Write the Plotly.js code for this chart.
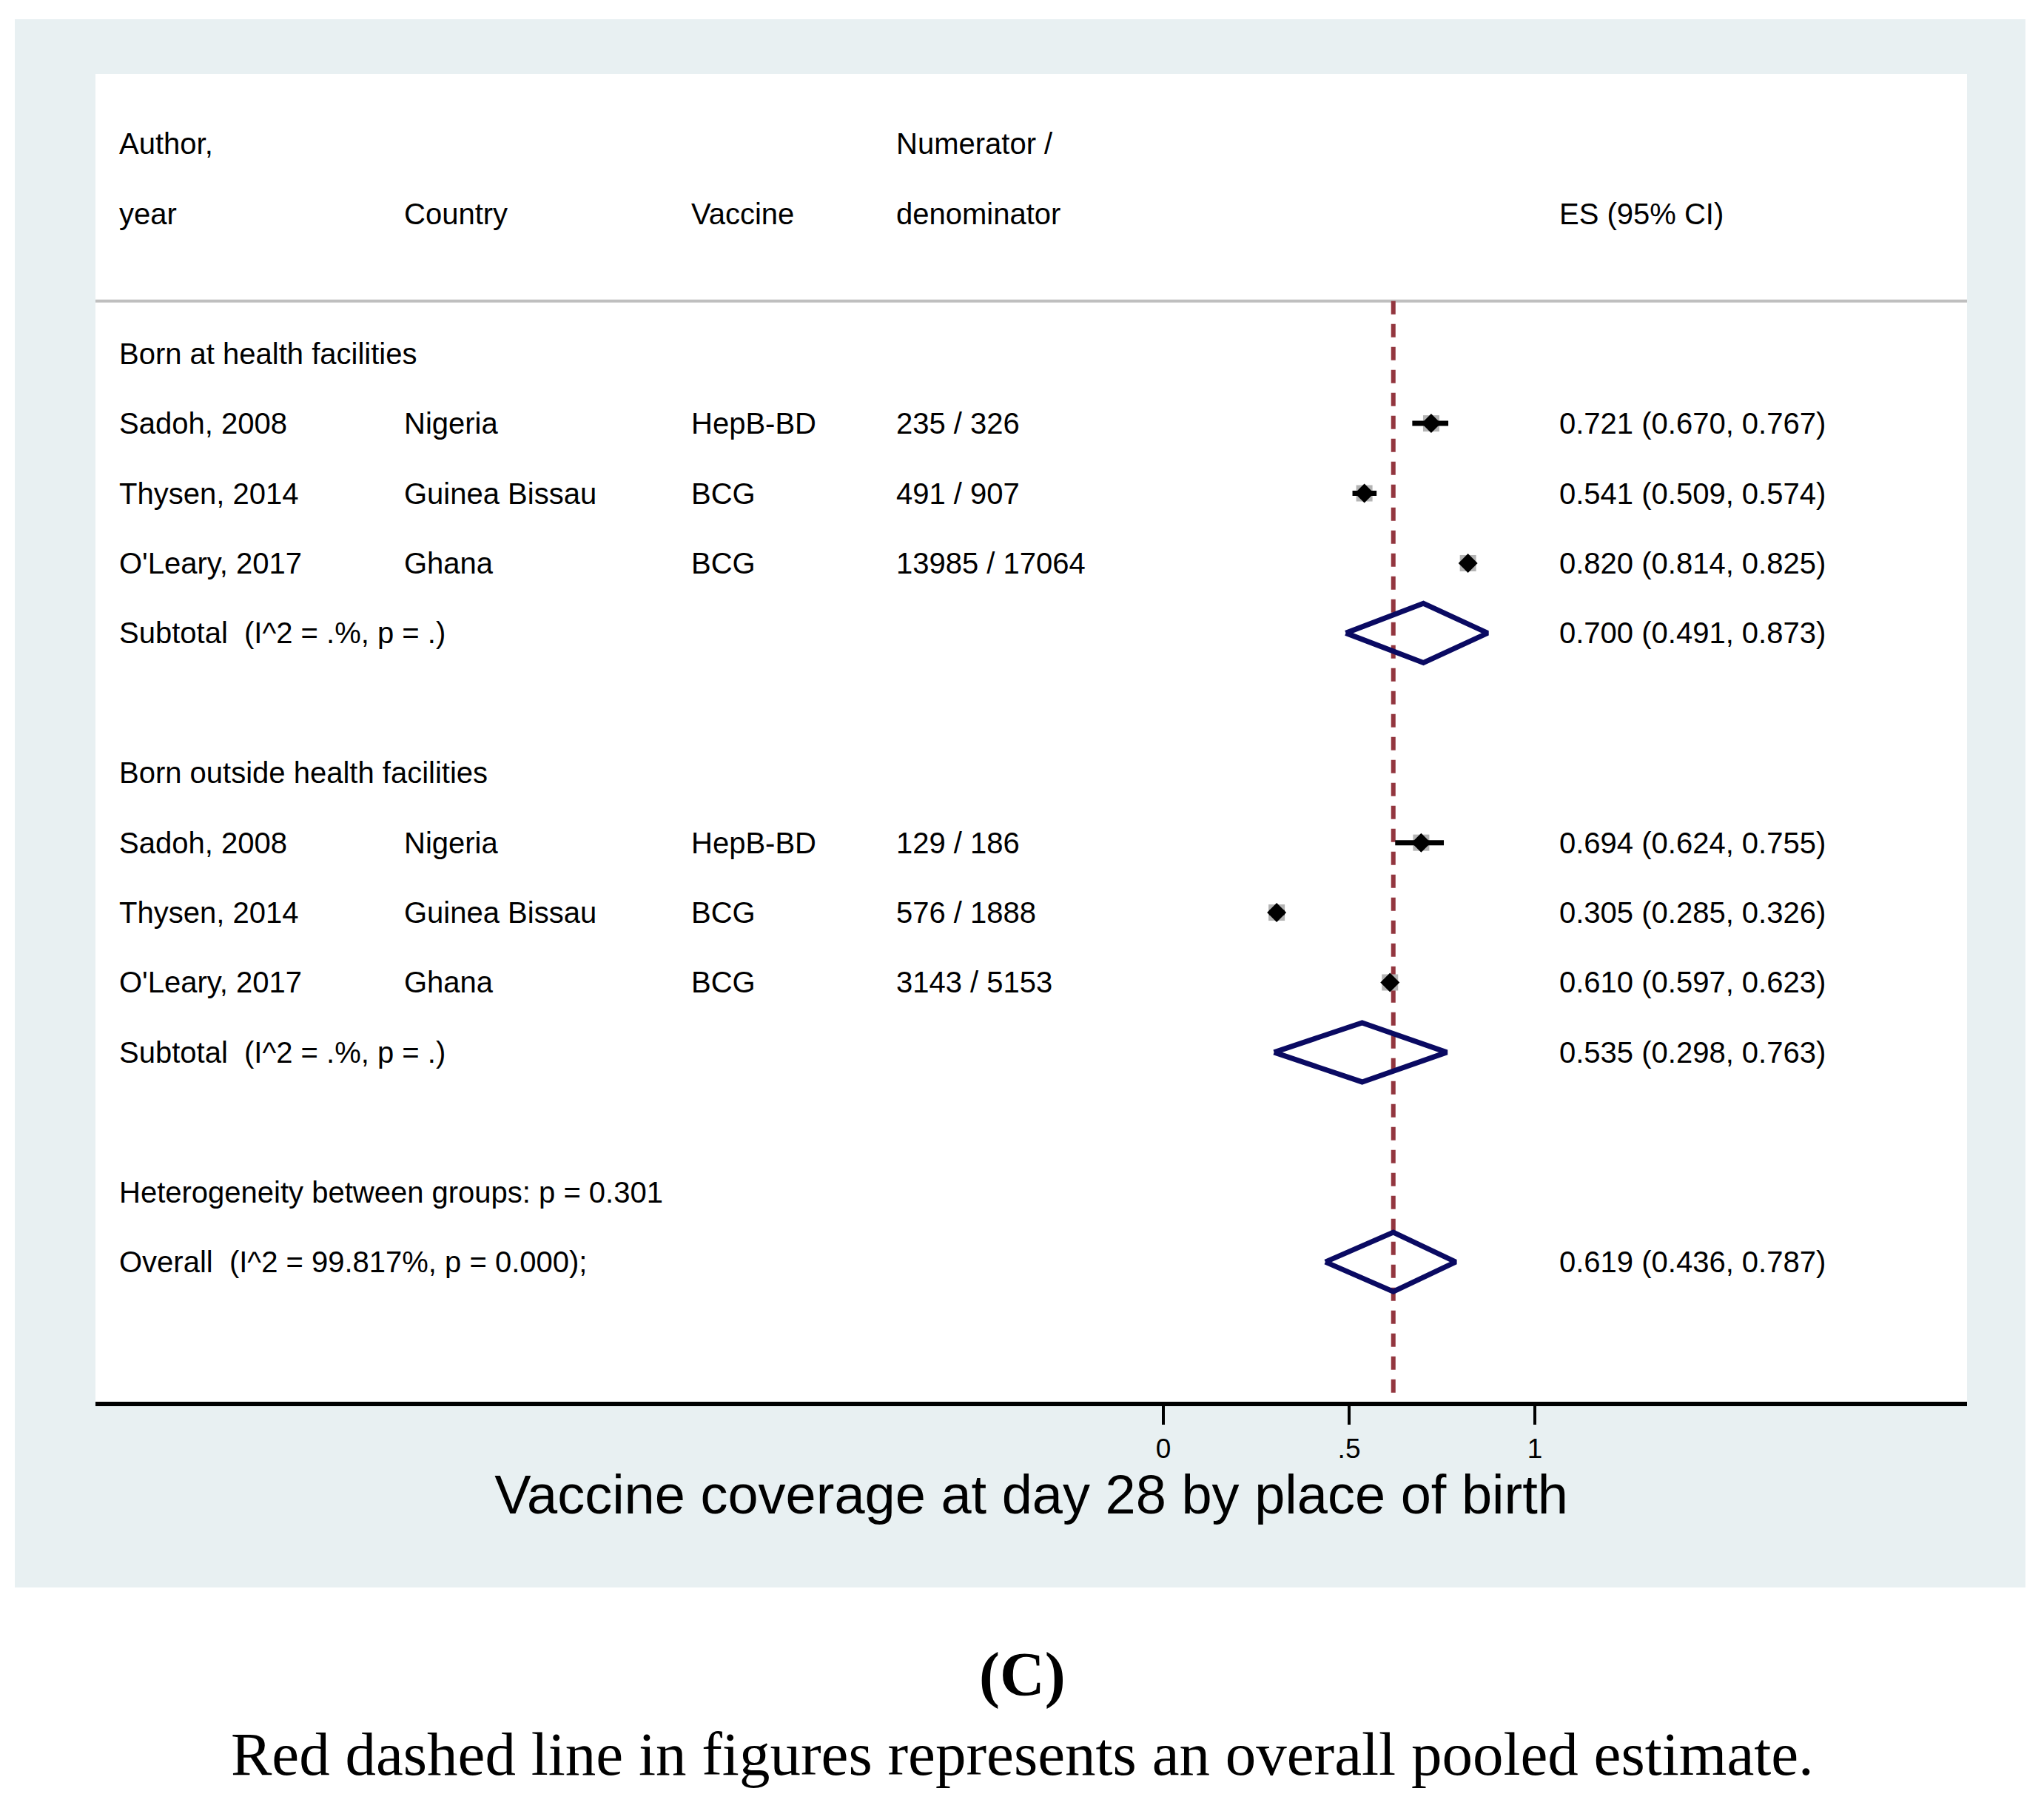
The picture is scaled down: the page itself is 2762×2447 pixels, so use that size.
<!DOCTYPE html>
<html>
<head>
<meta charset="utf-8">
<script src="https://cdn.plot.ly/plotly-3.0.1.min.js"></script>
<style>
  html, body { margin: 0; padding: 0; background: #ffffff; }
  #chart { width: 2762px; height: 2447px; }
</style>
</head>
<body>
<div id="chart"></div>
<script>
// ---------------- data ----------------
const groupLabels = ["Born at health facilities", "Born outside health facilities"];
const groupRows = [4, 10];

const authors   = ["Sadoh, 2008", "Thysen, 2014", "O'Leary, 2017", "Sadoh, 2008", "Thysen, 2014", "O'Leary, 2017"];
const countries = ["Nigeria", "Guinea Bissau", "Ghana", "Nigeria", "Guinea Bissau", "Ghana"];
const vaccines  = ["HepB-BD", "BCG", "BCG", "HepB-BD", "BCG", "BCG"];
const numDen    = ["235 / 326", "491 / 907", "13985 / 17064", "129 / 186", "576 / 1888", "3143 / 5153"];
const studyEs   = [0.721, 0.541, 0.820, 0.694, 0.305, 0.610];
const studyLo   = [0.670, 0.509, 0.814, 0.624, 0.285, 0.597];
const studyHi   = [0.767, 0.574, 0.825, 0.755, 0.326, 0.623];
const studyRows = [5, 6, 7, 11, 12, 13];

const pooledLabels = ["Subtotal \u00a0(I^2 = .%, p = .)", "Subtotal \u00a0(I^2 = .%, p = .)", "Overall \u00a0(I^2 = 99.817%, p = 0.000);"];
const pooledEs   = [0.700, 0.535, 0.619];
const pooledLo   = [0.491, 0.298, 0.436];
const pooledHi   = [0.873, 0.763, 0.787];
const pooledRows = [8, 14, 17];

const hetText = "Heterogeneity between groups: p = 0.301";
const hetRow = 16;

const headerLine1 = ["Author,", "", "", "Numerator /", ""];
const headerLine2 = ["year", "Country", "Vaccine", "denominator", "ES (95% CI)"];

const tickVals = [0, 0.5, 1];
const tickText = ["0", ".5", "1"];
const axisTitle = "Vaccine coverage at day 28 by place of birth";
const panelLabel = "(C)";
const captionText = "Red dashed line in figures represents an overall pooled estimate.";

// ---------------- styling constants ----------------
const SANS = "Liberation Sans, Arial, sans-serif";
const SERIF = "Liberation Serif, Times New Roman, serif";
const TXT = 40;
const colX = [0.0123, 0.1645, 0.3179, 0.4274, 0.7817];
const diamondHalf = 0.424;
const fmt = v => v.toFixed(3);

// ---------------- traces ----------------
const ciX = [], ciY = [];
studyEs.forEach((e, i) => {
  ciX.push(studyLo[i], studyHi[i], null);
  ciY.push(studyRows[i], studyRows[i], null);
});

const dX = [], dY = [];
pooledEs.forEach((e, i) => {
  const r = pooledRows[i];
  dX.push(pooledLo[i], e, pooledHi[i], e, pooledLo[i], null);
  dY.push(r, r - diamondHalf, r, r + diamondHalf, r, null);
});

const traces = [
  { type: 'scatter', mode: 'markers', x: studyEs, y: studyRows,
    marker: { symbol: 'square', size: 22, color: '#b4b4b4', line: { width: 0 } },
    hoverinfo: 'skip', showlegend: false },
  { type: 'scatter', mode: 'lines', x: ciX, y: ciY,
    line: { color: '#000000', width: 7 }, hoverinfo: 'skip', showlegend: false },
  { type: 'scatter', mode: 'markers', x: studyEs, y: studyRows,
    marker: { symbol: 'diamond', size: 20, color: '#000000', line: { width: 0 } },
    hoverinfo: 'skip', showlegend: false },
  { type: 'scatter', mode: 'lines', x: dX, y: dY,
    line: { color: '#0a0a62', width: 7 }, hoverinfo: 'skip', showlegend: false }
];

// ---------------- annotations ----------------
const annotations = [];
function addText(text, xp, row, opts) {
  annotations.push(Object.assign({
    text: text, xref: 'paper', x: xp, yref: 'y', y: row,
    xanchor: 'left', yanchor: 'middle', showarrow: false, borderpad: 0,
    font: { family: SANS, size: TXT, color: '#000000' }
  }, opts || {}));
}
headerLine1.forEach((t, c) => { if (t) addText(t, colX[c], 1); });
headerLine2.forEach((t, c) => { if (t) addText(t, colX[c], 2); });
groupLabels.forEach((t, i) => addText(t, colX[0], groupRows[i]));
studyRows.forEach((r, i) => {
  addText(authors[i], colX[0], r);
  addText(countries[i], colX[1], r);
  addText(vaccines[i], colX[2], r);
  addText(numDen[i], colX[3], r);
  addText(fmt(studyEs[i]) + " (" + fmt(studyLo[i]) + ", " + fmt(studyHi[i]) + ")", colX[4], r);
});
pooledRows.forEach((r, i) => {
  addText(pooledLabels[i], colX[0], r);
  addText(fmt(pooledEs[i]) + " (" + fmt(pooledLo[i]) + ", " + fmt(pooledHi[i]) + ")", colX[4], r);
});
addText(hetText, colX[0], hetRow);

annotations.push({
  text: '<b>' + panelLabel + '</b>', xref: 'paper', yref: 'paper', x: 0.4951, y: -0.2055,
  xanchor: 'center', yanchor: 'middle', showarrow: false,
  font: { family: SERIF, size: 84, color: '#000000' }
});
annotations.push({
  text: captionText, xref: 'paper', yref: 'paper', x: 0.4951, y: -0.2652,
  xanchor: 'center', yanchor: 'middle', showarrow: false,
  font: { family: SERIF, size: 83, color: '#000000' }
});

// ---------------- shapes ----------------
const shapes = [
  { type: 'rect', xref: 'paper', yref: 'paper', x0: -0.0431, x1: 1.0312, y0: -0.1399, y1: 1.0412,
    fillcolor: '#e8f0f2', line: { width: 0 }, layer: 'below' },
  { type: 'rect', xref: 'paper', yref: 'paper', x0: 0, x1: 1, y0: 0, y1: 1,
    fillcolor: '#ffffff', line: { width: 0 }, layer: 'below' },
  { type: 'line', xref: 'paper', yref: 'y', x0: 0, x1: 1, y0: 3.25, y1: 3.25,
    line: { color: '#bfbfbf', width: 4 }, layer: 'below' },
  { type: 'line', xref: 'x', yref: 'y', x0: pooledEs[2], x1: pooledEs[2], y0: 3.25, y1: 19,
    line: { color: '#93363f', width: 6, dash: '18px,13px' }, layer: 'below' }
];

const layout = {
  width: 2762, height: 2447,
  margin: { l: 129, r: 104, t: 100, b: 553, pad: 0 },
  paper_bgcolor: '#ffffff',
  plot_bgcolor: 'rgba(0,0,0,0)',
  showlegend: false,
  xaxis: {
    range: [-2.8745, 2.1633], fixedrange: true,
    tickmode: 'array', tickvals: tickVals, ticktext: tickText,
    ticks: 'outside', ticklen: 25, tickwidth: 4, tickcolor: '#000000',
    tickfont: { family: SANS, size: 37, color: '#000000' },
    ticklabelstandoff: 1,
    showline: true, linecolor: '#000000', linewidth: 6,
    showgrid: false, zeroline: false,
    title: { text: axisTitle, font: { family: SANS, size: 74, color: '#000000' }, standoff: 0 }
  },
  yaxis: {
    range: [19, 0], fixedrange: true,
    showgrid: false, zeroline: false, showline: false,
    showticklabels: false, ticks: ''
  },
  shapes: shapes,
  annotations: annotations
};

Plotly.newPlot('chart', traces, layout, { displayModeBar: false, staticPlot: true });
</script>
</body>
</html>
